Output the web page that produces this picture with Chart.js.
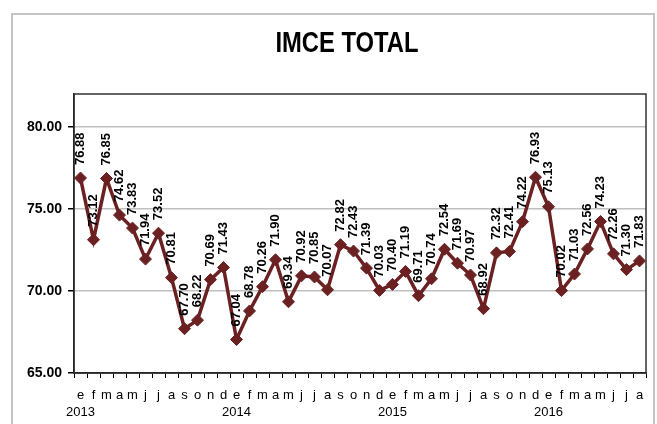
<!DOCTYPE html>
<html>
<head>
<meta charset="utf-8">
<script src="https://cdn.jsdelivr.net/npm/chart.js@4.4.0/dist/chart.umd.min.js"></script>
<style>
  body { margin: 0; background: #fff; }
  #wrap { position: relative; width: 657px; height: 424px; }
  #frame { position: absolute; left: 11px; top: 13px; width: 644px; height: 420px;
           border: 2px solid #c4c4c4; border-bottom: none; box-sizing: border-box; }
  canvas { position: absolute; left: 0; top: 0; }
</style>
</head>
<body>
<div id="wrap">
  <div id="frame"></div>
  <canvas id="c" width="657" height="424"></canvas>
</div>
<script>
// month initials (Spanish) and the year that starts on each January
const months = ['e', 'f', 'm', 'a', 'm', 'j', 'j', 'a', 's', 'o', 'n', 'd'];
const years = ['2013', '2014', '2015', '2016'];
const monthsIn2016 = 8;

// IMCE total, jan 2013 .. aug 2016
const imce2013 = [76.88, 73.12, 76.85, 74.62, 73.83, 71.94, 73.52, 70.81, 67.70, 68.22, 70.69, 71.43];
const imce2014 = [67.04, 68.78, 70.26, 71.90, 69.34, 70.92, 70.85, 70.07, 72.82, 72.43, 71.39, 70.03];
const imce2015 = [70.40, 71.19, 69.71, 70.74, 72.54, 71.69, 70.97, 68.92, 72.32, 72.41, 74.22, 76.93];
const imce2016 = [75.13, 70.02, 71.03, 72.56, 74.23, 72.26, 71.30, 71.83];

const yTicks = [65, 70, 75, 80];
const chartTitle = 'IMCE TOTAL';

const labels = [];
years.forEach((y, i) => {
  const n = i === years.length - 1 ? monthsIn2016 : 12;
  for (let m = 0; m < n; m++) labels.push(m === 0 ? [months[m], y] : months[m]);
});
const values = imce2013.concat(imce2014, imce2015, imce2016);

const maroon = '#6b2121';

// values written vertically above each point
const pointLabels = {
  id: 'pointLabels',
  afterDatasetsDraw(chart) {
    const ctx = chart.ctx;
    const meta = chart.getDatasetMeta(0);
    ctx.save();
    ctx.font = 'bold 13px "Liberation Sans", Arial, sans-serif';
    ctx.fillStyle = '#000';
    ctx.textAlign = 'left';
    ctx.textBaseline = 'middle';
    meta.data.forEach((pt, i) => {
      ctx.save();
      ctx.translate(pt.x, pt.y - 13);
      ctx.rotate(-Math.PI / 2);
      ctx.fillText(values[i].toFixed(2), 0, 0);
      ctx.restore();
    });
    ctx.restore();
  }
};

// dark frame round the plot area + condensed title
const plotFrame = {
  id: 'plotFrame',
  beforeDatasetsDraw(chart) {
    const a = chart.chartArea, ctx = chart.ctx;
    ctx.save();
    ctx.strokeStyle = '#333';
    ctx.lineWidth = 1.5;
    ctx.strokeRect(a.left, a.top, a.right - a.left, a.bottom - a.top);
    ctx.restore();
  },
  afterDraw(chart) {
    const ctx = chart.ctx;
    ctx.save();
    ctx.translate(347, 44);
    ctx.scale(0.82, 1);
    ctx.font = 'bold 29px "Liberation Sans", Arial, sans-serif';
    ctx.fillStyle = '#000';
    ctx.textAlign = 'center';
    ctx.textBaseline = 'middle';
    ctx.fillText(chartTitle, 0, 0);
    ctx.restore();
  }
};

new Chart(document.getElementById('c'), {
  type: 'line',
  data: {
    labels: labels,
    datasets: [{
      data: values,
      borderColor: maroon,
      backgroundColor: maroon,
      borderWidth: 3.5,
      pointStyle: 'rectRot',
      pointRadius: 6,
      pointBorderWidth: 1,
      tension: 0
    }]
  },
  options: {
    responsive: false,
    animation: false,
    layout: { padding: { left: 0, right: 11, top: 94, bottom: 0 } },
    plugins: {
      legend: { display: false },
      tooltip: { enabled: false },
      title: { display: false }
    },
    scales: {
      x: {
        offset: true,
        grid: { offset: true, drawOnChartArea: false, tickLength: 5, tickColor: '#000', lineWidth: 1 },
        border: { color: '#000', width: 1.5 },
        ticks: {
          autoSkip: false, maxRotation: 0, padding: 9, color: '#000',
          font: { family: '"Liberation Sans", Arial, sans-serif', size: 13, lineHeight: 1.3 }
        },
        afterFit(s) { s.height = 51; }
      },
      y: {
        min: 65,
        max: 82,
        afterBuildTicks(s) { s.ticks = yTicks.map(v => ({ value: v })); },
        grid: { color: '#c0c0c0', lineWidth: 1.5, tickColor: '#000', tickLength: 6 },
        border: { color: '#000', width: 1.5 },
        ticks: {
          color: '#000', padding: 6,
          font: { family: '"Liberation Sans", Arial, sans-serif', size: 14, weight: 'bold' },
          callback: v => v.toFixed(2)
        },
        afterFit(s) { s.width = 74; }
      }
    }
  },
  plugins: [plotFrame, pointLabels]
});
</script>
</body>
</html>
